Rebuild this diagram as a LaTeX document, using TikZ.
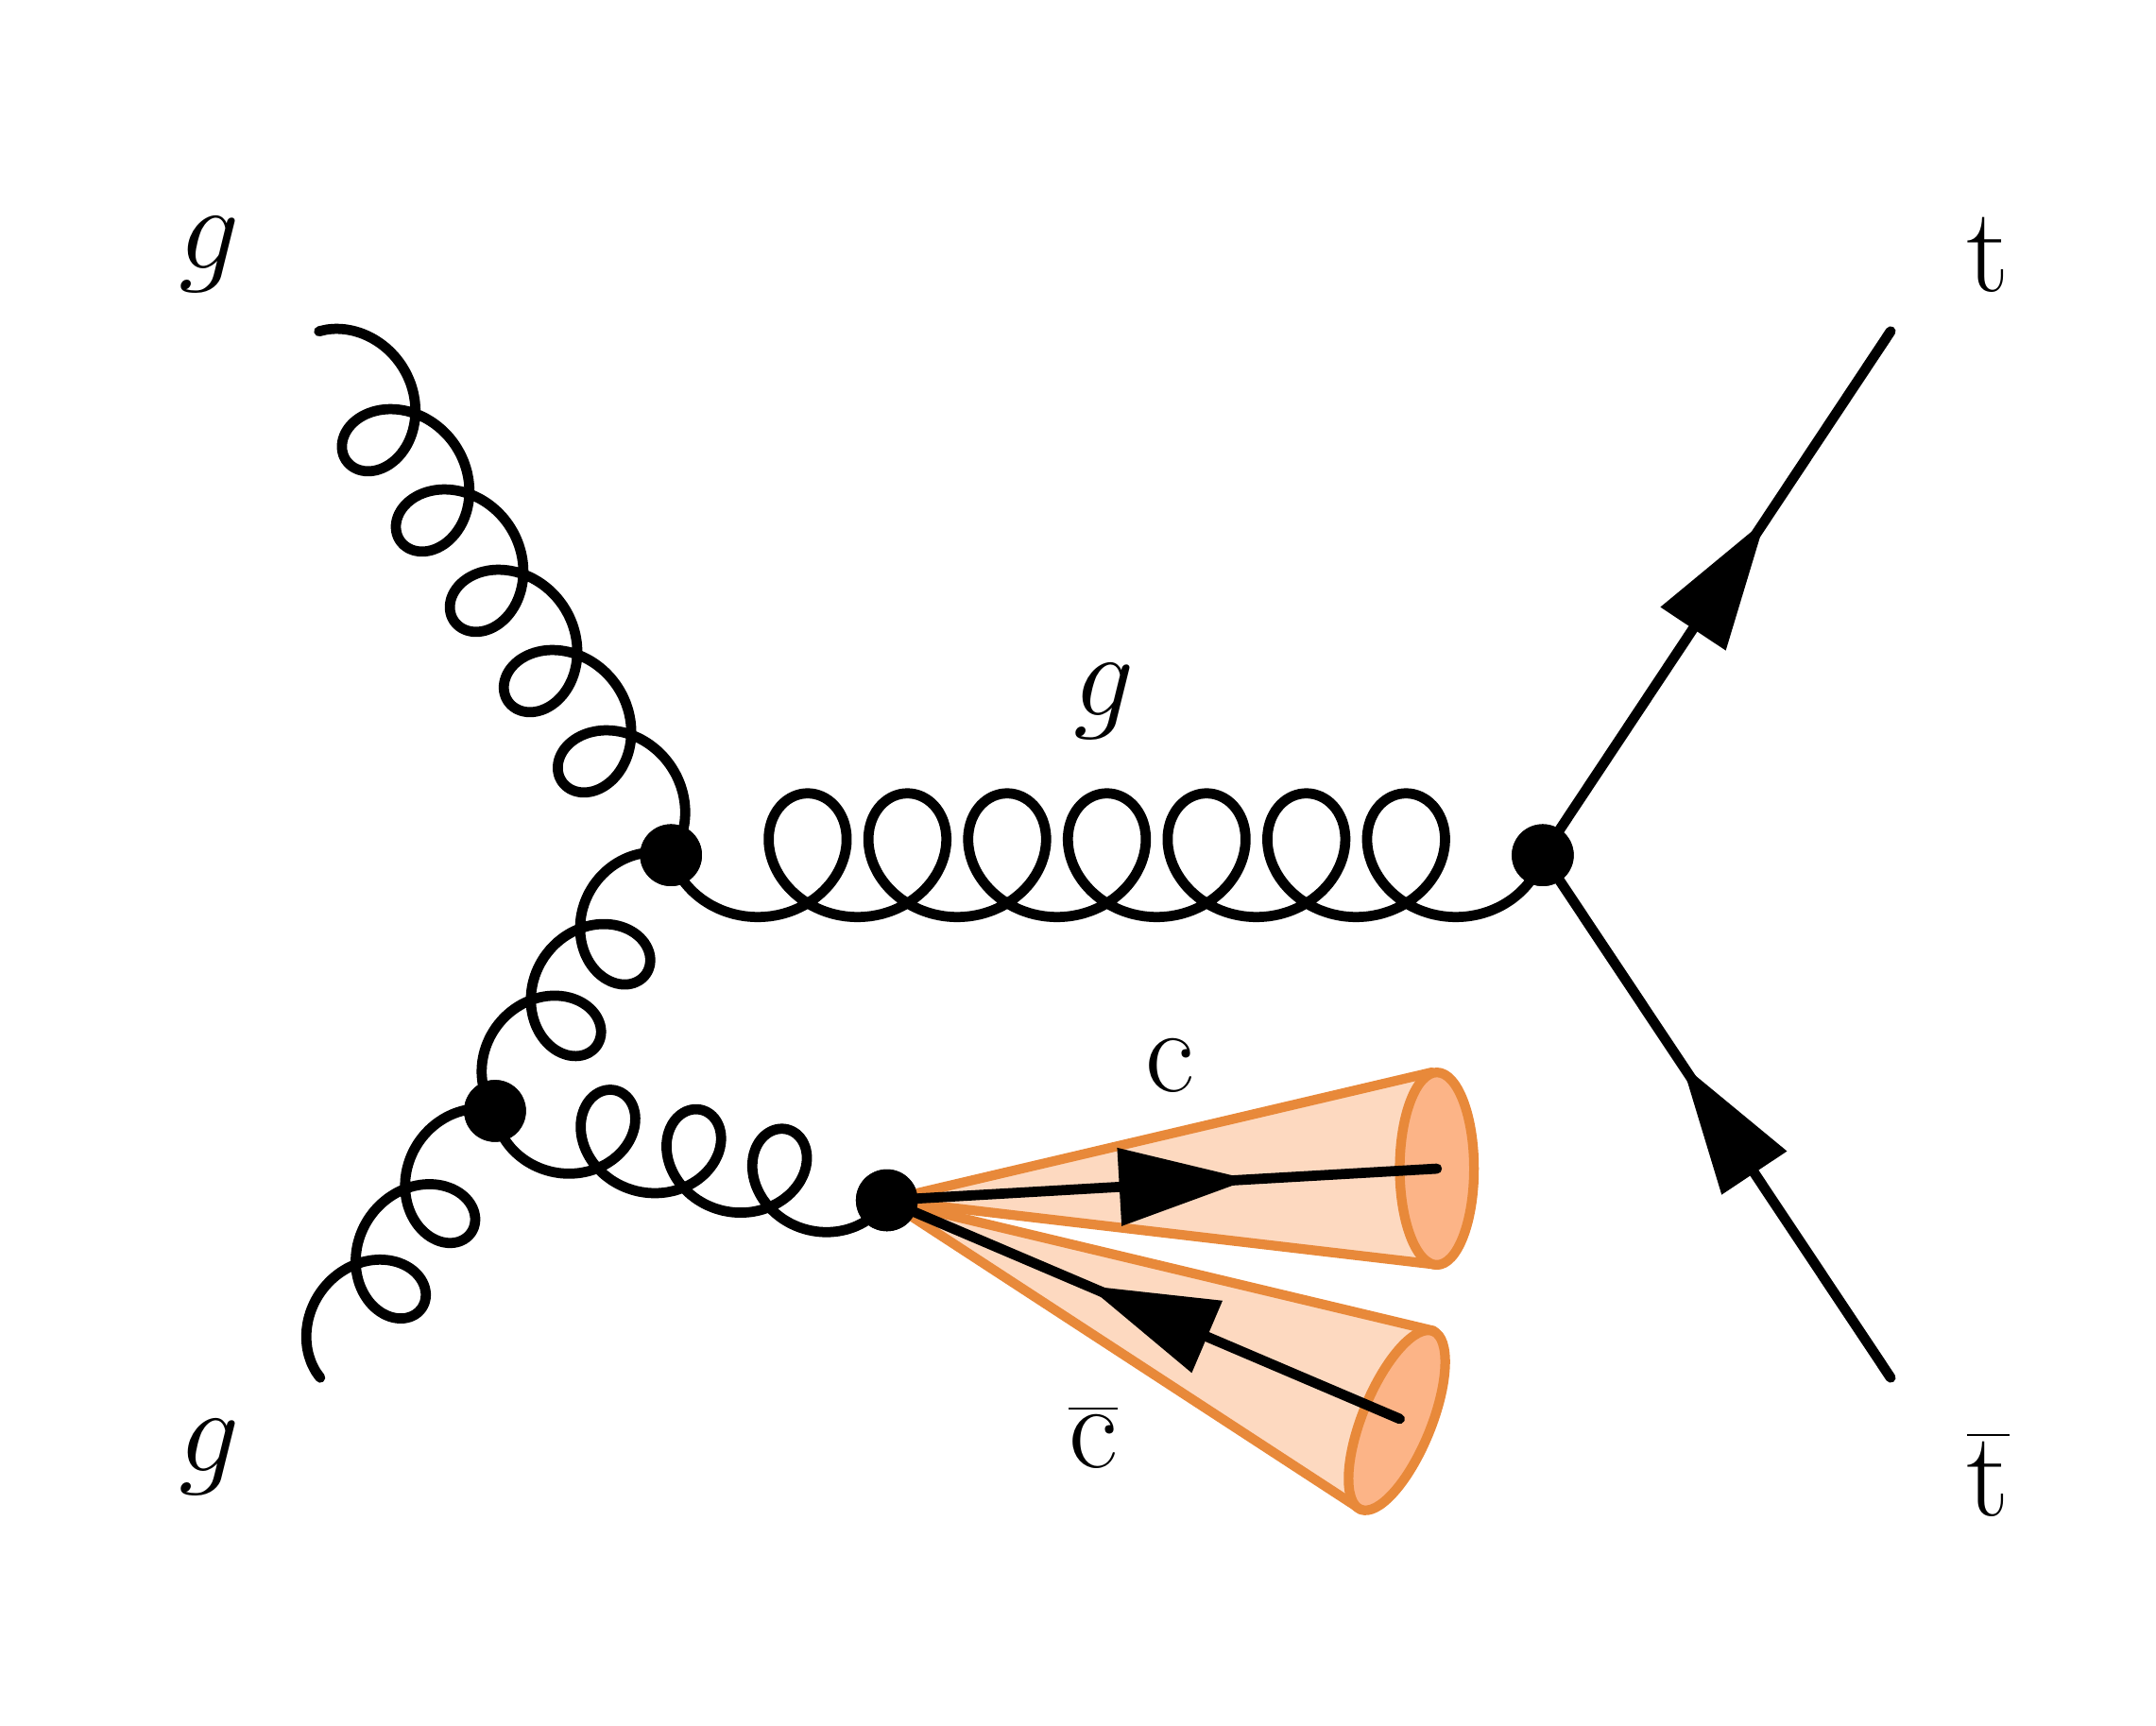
\documentclass[tikz,border=0pt]{standalone}
\usetikzlibrary{decorations.markings,arrows.meta}
\definecolor{conefill}{HTML}{FDD9C0}
\definecolor{ellfill}{HTML}{FCB487}
\definecolor{conedraw}{HTML}{E8893A}
\tikzset{
 gl/.style={line width=2.1pt,line cap=round,line join=round},
 fer/.style={line width=2.1pt,line cap=round,postaction={decorate},decoration={markings,mark=at position #1 with {\arrow{Triangle[length=0.95cm,width=0.55cm]}}}},
 vtx/.style={circle,fill=black,inner sep=0pt,minimum size=0.45cm},
 cone/.style={conedraw,line width=2pt,line join=round},
 lab/.style={font=\Huge}
}
% #1 start, #2 angle, #3 length, #4 loops, #5 side, #6 radius
\newcommand\gluonline[6]{%
 \begin{scope}[shift={(#1)},rotate=#2,x=0.01cm,y=0.01cm]
  \pgfmathsetmacro\gp{(#3-2*#6)/(#4+0.5)}
  \draw[gl] plot[domain=-0.25:#4+0.25,samples=#4*40+21,smooth,variable=\u]
   ({\gp*\u+#6*sin(360*\u)+\gp/4+#6},{-#5*#6*cos(360*\u)});
 \end{scope}}
\begin{document}
\begin{tikzpicture}[x=0.01cm,y=-0.01cm]
\useasboundingbox (0,0) rectangle (1568,1255);
\coordinate (g1) at (232,241);
\coordinate (g2) at (233,1002);
\node[vtx] (A) at (488,622) {};
\node[vtx] (B) at (360,808) {};
\node[vtx] (C) at (1122,622) {};
\node[vtx] (D) at (645,873) {};
\coordinate (t) at (1375,241);
\coordinate (tb) at (1375,1002);
\coordinate (e1) at (1045,850);
\coordinate (e2) at (1016,1033);
% cones
\draw[cone,fill=conefill] (D.center) -- (1041,780) -- (1046,920) -- cycle;
\draw[cone,fill=ellfill] (e1) ellipse [x radius=27,y radius=70];
\draw[cone,fill=conefill] (D.center) -- (1043,968) -- (990,1098) -- cycle;
\draw[cone,fill=ellfill,rotate around={67.8:(e2)}] (e2) ellipse [x radius=70,y radius=25];
\draw[fer=0.66] (D.center) -- (e1);
\draw[fer=0.61] (1018,1032) -- (D.center);
% gluons
\gluonline{g1}{-56.1}{459}{5}{-1}{36}
\gluonline{A}{0}{634}{7}{1}{45}
\gluonline{A}{-124.5}{226}{2}{1}{34}
\gluonline{B}{-123.2}{232}{2}{1}{34}
\gluonline{B}{-12.8}{292}{3}{1}{34}
% fermions
\draw[fer=0.64] (C.center) -- (t);
\draw[fer=0.6] (tb) -- (C.center);
\node[vtx] at (A) {};\node[vtx] at (B) {};\node[vtx] at (C) {};\node[vtx] at (D) {};
% labels
\node[lab] (lg1) at (152,185) {$g$};
\node[lab] (lg2) at (152,1060) {$g$};
\node[lab] (lg3) at (803,510) {$g$};
\node[lab] (lt) at (1446,185) {$\mathrm{t}$};
\node[lab] (ltb) at (1446,1072) {$\overline{\mathrm{t}}$};
\node[lab] (lc) at (851,775) {$\mathrm{c}$};
\node[lab] (lcb) at (795,1045) {$\overline{\mathrm{c}}$};
\end{tikzpicture}
\end{document}
